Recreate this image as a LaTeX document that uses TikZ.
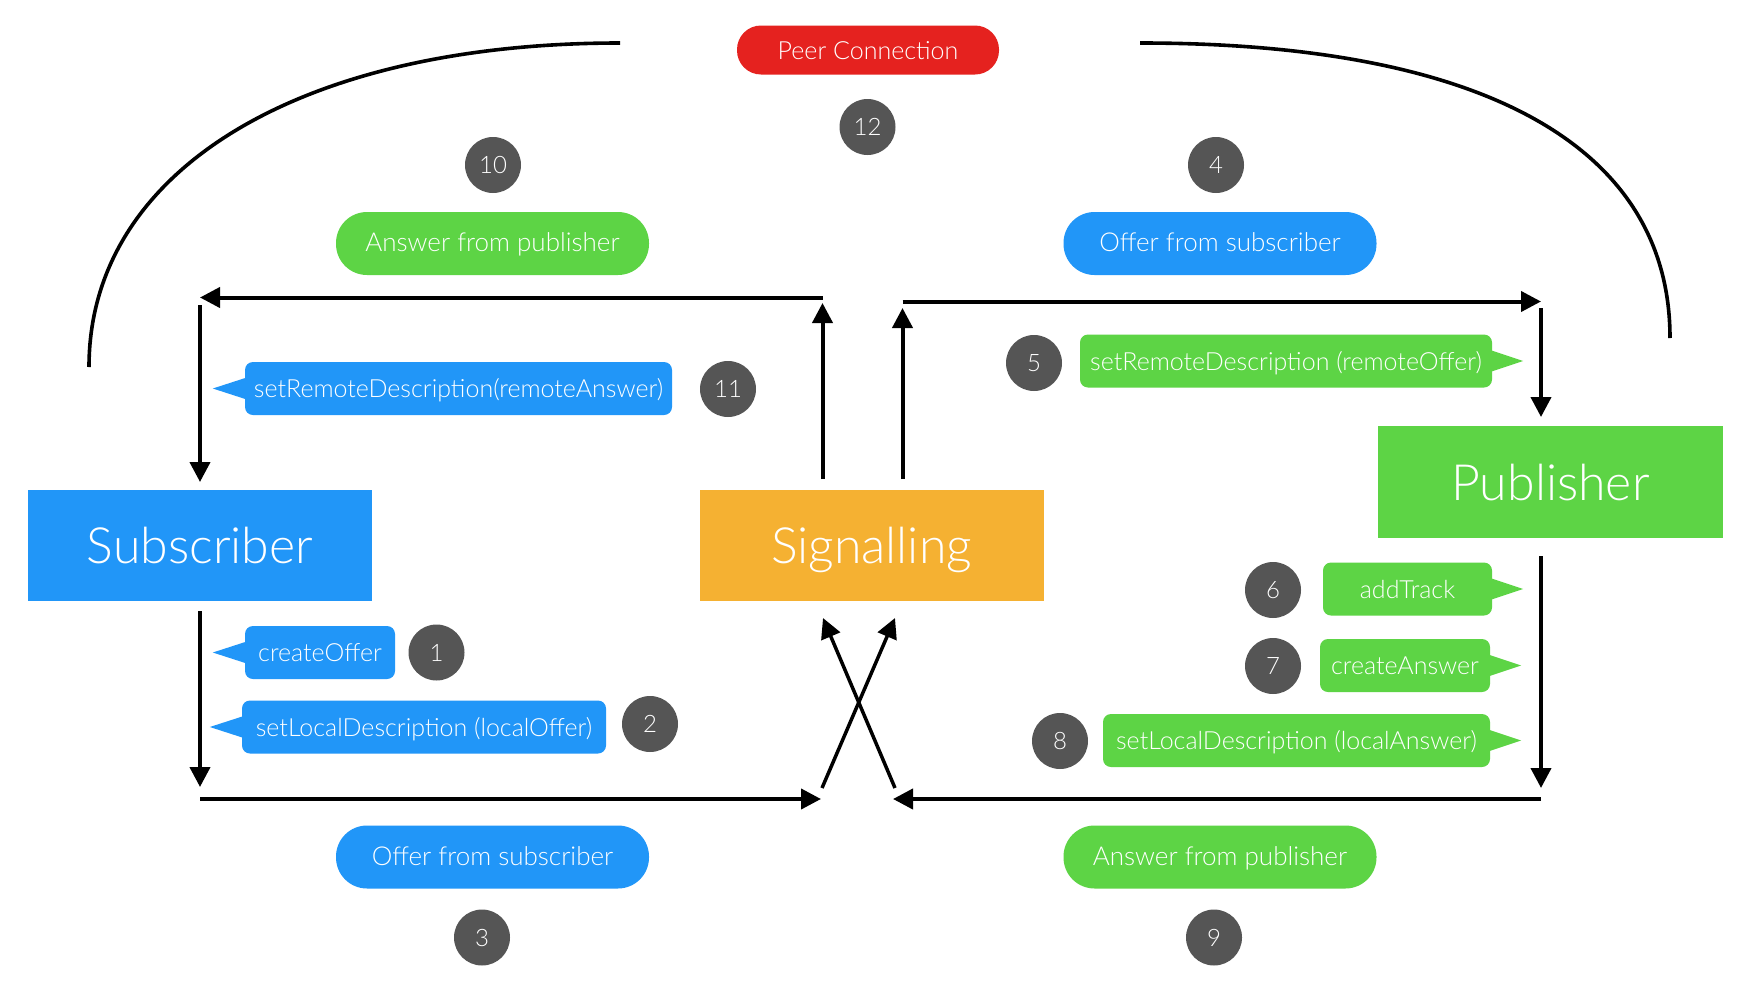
\documentclass[tikz,border=0pt]{standalone}
\usepackage{fontspec}
\setmainfont{Lato}[UprightFont=* Light]
\usetikzlibrary{arrows.meta}
\definecolor{subblue}{RGB}{33,150,248}
\definecolor{pubgreen}{RGB}{93,212,69}
\definecolor{sigorange}{RGB}{245,177,50}
\definecolor{pcred}{RGB}{229,34,31}
\definecolor{stepgray}{RGB}{85,85,85}
\begin{document}
\begin{tikzpicture}[x=1pt,y=-1pt,
  actor/.style={rectangle, inner sep=0pt, minimum width=344pt, minimum height=111pt, text=white, font=\fontsize{50}{56}\selectfont, text height=36pt, text depth=0pt},
  pill/.style={rectangle, rounded corners=31pt, inner sep=0pt, minimum width=313pt, minimum height=63pt, text=white, font=\fontsize{26}{30}\selectfont, text height=16pt, text depth=0pt},
  bubble/.style={rectangle, rounded corners=8pt, inner sep=0pt, minimum height=53pt, text=white, font=\fontsize{25}{28}\selectfont, text height=18pt, text depth=0pt},
  stepnum/.style={circle, fill=stepgray, inner sep=0pt, minimum size=56pt, text=white, font=\fontsize{24}{26}\selectfont, text height=17pt, text depth=0pt},
  flow/.style={line width=4pt, -{Triangle[length=20pt,width=20pt]}},
  pcarc/.style={line width=3.6pt}
]
\useasboundingbox[fill=white] (0,0) rectangle (1746,988);

% main actors
\node[actor, fill=subblue]    (sub) at (200,545.5) {Subscriber};
\node[actor, fill=sigorange]  (sig) at (871.5,545.5) {Signalling};
\node[actor, fill=pubgreen, minimum width=345pt, minimum height=112pt] (pub) at (1550.5,482) {Publisher};

% peer connection
\node[pill, fill=pcred, minimum width=262pt, minimum height=49pt, rounded corners=24pt, font=\fontsize{25}{28}\selectfont, text height=18pt] (pc) at (868,50) {Peer Connection};
\coordinate (arcLa) at (620,43);
\coordinate (arcLb) at (89,367);
\coordinate (arcRa) at (1140,43);
\coordinate (arcRb) at (1670,338);
\draw[pcarc] (arcLa) .. controls (300,43) and (89,170) .. (arcLb);
\draw[pcarc] (arcRa) .. controls (1483,43) and (1670,146) .. (arcRb);

% message pills
\node[pill, fill=pubgreen] (ansTop) at (492.5,243.5) {Answer from publisher};
\node[pill, fill=subblue]  (offTop) at (1220,243.5) {Offer from subscriber};
\node[pill, fill=subblue]  (offBot) at (492.5,857) {Offer from subscriber};
\node[pill, fill=pubgreen] (ansBot) at (1220,857) {Answer from publisher};

% call-outs with tails
\node[bubble, fill=subblue, minimum width=427pt] (b11) at (458.5,388.5) {setRemoteDescription(remoteAnswer)};
\node[bubble, fill=subblue, minimum width=150pt] (b1) at (320,652.5) {createOffer};
\node[bubble, fill=subblue, minimum width=364pt] (b2) at (424,727) {setLocalDescription (localOffer)};
\node[bubble, fill=pubgreen, minimum width=412pt] (b5) at (1286,361) {setRemoteDescription (remoteOffer)};
\node[bubble, fill=pubgreen, minimum width=169pt] (b6) at (1407.5,589) {addTrack};
\node[bubble, fill=pubgreen, minimum width=170pt] (b7) at (1405,665.5) {createAnswer};
\node[bubble, fill=pubgreen, minimum width=387pt] (b8) at (1296.5,740.5) {setLocalDescription (localAnswer)};
\foreach \b in {b11,b1,b2}
  \fill[subblue] ([xshift=2pt,yshift=11pt]\b.west) -- ([xshift=-32pt]\b.west) -- ([xshift=2pt,yshift=-11pt]\b.west) -- cycle;
\foreach \b in {b5,b6,b7,b8}
  \fill[pubgreen] ([xshift=-2pt,yshift=11pt]\b.east) -- ([xshift=31pt]\b.east) -- ([xshift=-2pt,yshift=-11pt]\b.east) -- cycle;

% step numbers
\node[stepnum] (n1) at (436.5,652.5) {1};
\node[stepnum] (n2) at (650,724) {2};
\node[stepnum] (n3) at (482,937.5) {3};
\node[stepnum] (n4) at (1216,165) {4};
\node[stepnum] (n5) at (1034,363) {5};
\node[stepnum] (n6) at (1273,590) {6};
\node[stepnum] (n7) at (1273,666) {7};
\node[stepnum] (n8) at (1060,741) {8};
\node[stepnum] (n9) at (1214,937.5) {9};
\node[stepnum] (n10) at (493,165) {10};
\node[stepnum] (n11) at (728,389) {11};
\node[stepnum] (n12) at (867.5,127) {12};

% route corners
\coordinate (sigUL) at (822.5,479);
\coordinate (sigUR) at (902.5,479);
\coordinate (upLtip) at (822.5,303);
\coordinate (upRtip) at (902.5,308);
\coordinate (topL) at (822.5,297.5);
\coordinate (topLend) at (200,297.5);
\coordinate (subIn) at (200,305);
\coordinate (subInTip) at (200,482);
\coordinate (topR) at (902.5,301.5);
\coordinate (topRend) at (1541,301.5);
\coordinate (pubIn) at (1541,308);
\coordinate (pubInTip) at (1541,417);
\coordinate (subOut) at (200,611);
\coordinate (subOutTip) at (200,787);
\coordinate (botL) at (200,799);
\coordinate (botLend) at (821,799);
\coordinate (pubOut) at (1541,556);
\coordinate (pubOutTip) at (1541,788);
\coordinate (botR) at (1541,799);
\coordinate (botRend) at (893,799);
\coordinate (xLa) at (822,788);
\coordinate (xLb) at (895,618);
\coordinate (xRa) at (895,788);
\coordinate (xRb) at (823,618);

% signalling routes
\draw[flow] (sigUL) -- (upLtip);
\draw[flow] (topL) -- (topLend);
\draw[flow] (subIn) -- (subInTip);
\draw[flow] (sigUR) -- (upRtip);
\draw[flow] (topR) -- (topRend);
\draw[flow] (pubIn) -- (pubInTip);
\draw[flow] (subOut) -- (subOutTip);
\draw[flow] (botL) -- (botLend);
\draw[flow] (pubOut) -- (pubOutTip);
\draw[flow] (botR) -- (botRend);
\draw[flow, line width=3.5pt] (xLa) -- (xLb);
\draw[flow, line width=3.5pt] (xRa) -- (xRb);
\end{tikzpicture}
\end{document}
